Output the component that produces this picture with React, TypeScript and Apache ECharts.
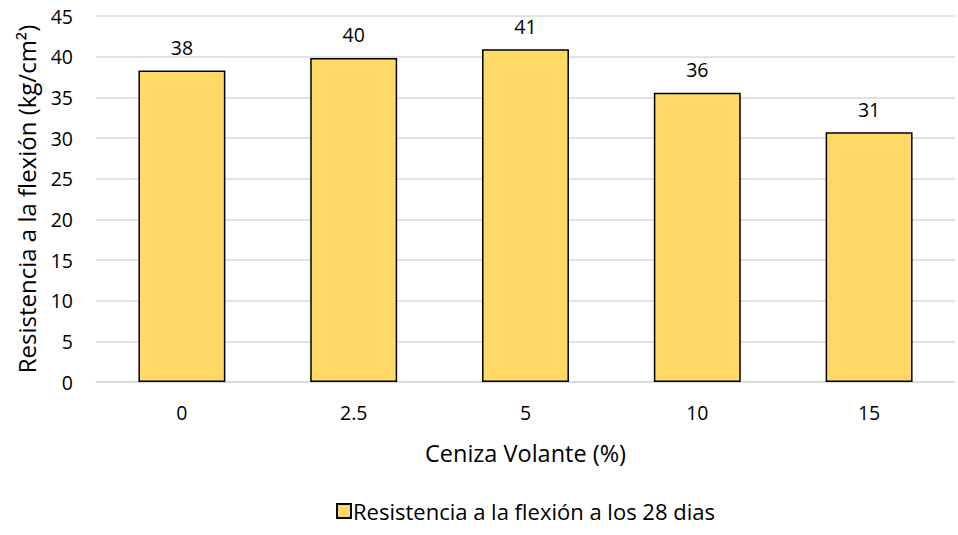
import React, { useEffect, useRef } from "react";
import * as echarts from "echarts";

const categories = ["0", "2.5", "5", "10", "15"];
const values = [38.3, 39.85, 40.9, 35.55, 30.7];
const seriesName = "Resistencia a la flexión a los 28 dias";
const yAxisName = "Resistencia a la flexión (kg/cm²)";
const xAxisName = "Ceniza Volante (%)";

const FONT = "'Open Sans', sans-serif";

export default function App() {
  const ref = useRef<HTMLDivElement>(null);
  useEffect(() => {
    if (!ref.current) return;
    const chart = echarts.init(ref.current, undefined, { renderer: "svg" });
    chart.setOption({
      animation: false,
      textStyle: { fontFamily: FONT },
      grid: { left: 96, right: 3, top: 16, bottom: 153, containLabel: false },
      xAxis: {
        type: "category",
        data: categories,
        name: xAxisName,
        nameLocation: "middle",
        nameGap: 59,
        nameTextStyle: { fontSize: 23.5, color: "#000", fontFamily: FONT },
        axisLine: { lineStyle: { color: "#d9d9d9", width: 1.5 } },
        axisTick: { show: false },
        axisLabel: { fontSize: 19.5, color: "#000", margin: 20, fontFamily: FONT },
      },
      yAxis: {
        type: "value",
        min: 0,
        max: 45,
        interval: 5,
        name: yAxisName,
        nameLocation: "middle",
        nameGap: 58,
        nameTextStyle: { fontSize: 24, color: "#000", fontFamily: FONT },
        axisLine: { show: false },
        axisTick: { show: false },
        axisLabel: { fontSize: 19.5, color: "#000", margin: 23, fontFamily: FONT },
        splitLine: { lineStyle: { color: "#d9d9d9", width: 1.5 } },
      },
      legend: {
        top: 495,
        left: 331,
        itemWidth: 14,
        itemHeight: 14,
        itemGap: 10,
        icon: "rect",
        textStyle: { fontSize: 22, color: "#000", fontFamily: FONT, padding: [0, 0, 0, -3] },
        data: [seriesName],
      },
      series: [
        {
          name: seriesName,
          type: "bar",
          data: values,
          barWidth: "50.6%",
          itemStyle: { color: "#FFD966", borderColor: "#000", borderWidth: 1.5 },
          label: {
            show: true,
            position: "top",
            distance: 13,
            fontSize: 19.5,
            color: "#000",
            fontFamily: FONT,
            formatter: (p: any) => String(Math.round(p.value)),
          },
        },
      ],
    });
    return () => chart.dispose();
  }, []);
  return (
    <div
      ref={ref}
      style={{ position: "absolute", left: 0, top: 0, width: 958, height: 535, background: "#fff" }}
    />
  );
}
